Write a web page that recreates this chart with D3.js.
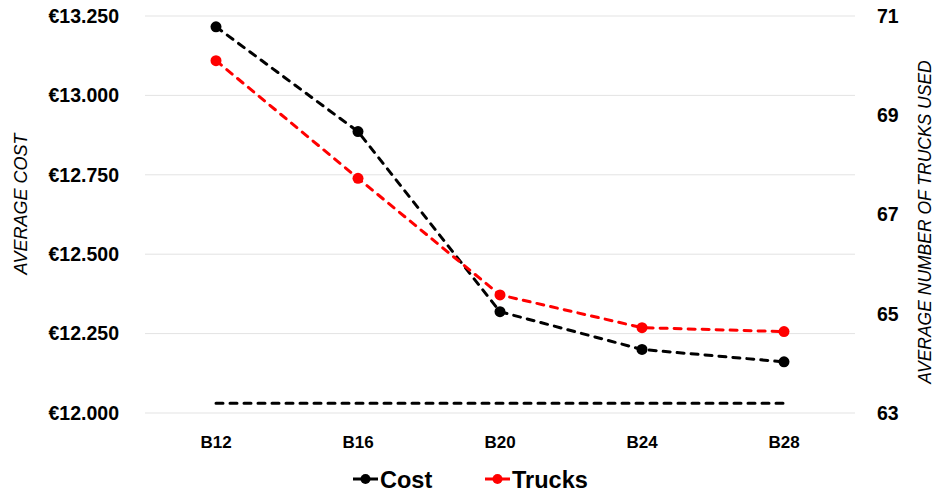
<!DOCTYPE html>
<html>
<head>
<meta charset="utf-8">
<script src="https://cdn.jsdelivr.net/npm/d3@7"></script>
<style>
  html, body { margin: 0; padding: 0; background: #fff; }
  svg { display: block; font-family: "Liberation Sans", Arial, sans-serif; }
</style>
</head>
<body>
<svg id="chart" width="938" height="496"></svg>
<script>
// ---- data ----
const categories = ["B12", "B16", "B20", "B24", "B28"];
const costValues = [13216, 12886, 12319, 12200, 12161];
const truckValues = [70.10, 67.73, 65.38, 64.72, 64.64];
const lowerBoundValues = [12031, 12031, 12031, 12031, 12031];
const costTicks = [12000, 12250, 12500, 12750, 13000, 13250];
const truckTicks = [63, 65, 67, 69, 71];
const seriesNames = ["Cost", "Trucks"];
const seriesColors = ["#000000", "#ff0000"];

// ---- layout ----
const svg = d3.select("#chart");
const plot = { left: 145, right: 855, top: 16, bottom: 413 };

const x = d3.scaleBand().domain(categories).range([plot.left, plot.right]).padding(0);
const xc = d => x(d) + x.bandwidth() / 2;
const yL = d3.scaleLinear().domain([12000, 13250]).range([plot.bottom, plot.top]);
const yR = d3.scaleLinear().domain([63, 71]).range([plot.bottom, plot.top]);

const locale = d3.formatLocale({ decimal: ",", thousands: ".", grouping: [3], currency: ["€", ""] });
const fmtCost = locale.format("$,.0f");

// gridlines
svg.append("g")
  .selectAll("line").data(costTicks).join("line")
  .attr("x1", plot.left).attr("x2", plot.right)
  .attr("y1", d => yL(d)).attr("y2", d => yL(d))
  .attr("stroke", "#e3e3e3").attr("stroke-width", 1);

// left axis
const leftAxis = svg.append("g")
  .attr("transform", `translate(${plot.left - 26},0)`)
  .call(d3.axisLeft(yL).tickValues(costTicks).tickFormat(fmtCost).tickSize(0).tickPadding(0));
leftAxis.select(".domain").remove();
leftAxis.selectAll("text")
  .attr("font-family", "Liberation Sans, Arial, sans-serif")
  .attr("font-size", 19.5).attr("font-weight", "bold").attr("fill", "#000");

// right axis
const rightAxis = svg.append("g")
  .attr("transform", `translate(${plot.right + 22},0)`)
  .call(d3.axisRight(yR).tickValues(truckTicks).tickFormat(d3.format("d")).tickSize(0).tickPadding(0));
rightAxis.select(".domain").remove();
rightAxis.selectAll("text")
  .attr("font-family", "Liberation Sans, Arial, sans-serif")
  .attr("font-size", 19.5).attr("font-weight", "bold").attr("fill", "#000");

// bottom axis
const bottomAxis = svg.append("g")
  .attr("transform", `translate(0,${plot.bottom + 23})`)
  .call(d3.axisBottom(x).tickSize(0).tickPadding(0));
bottomAxis.select(".domain").remove();
bottomAxis.selectAll("text")
  .attr("font-family", "Liberation Sans, Arial, sans-serif")
  .attr("font-size", 17).attr("font-weight", "bold").attr("fill", "#000");

// axis titles
svg.append("text")
  .attr("transform", "translate(27,204) rotate(-90)")
  .attr("text-anchor", "middle")
  .attr("font-size", 18).attr("font-style", "italic").attr("fill", "#000")
  .text("AVERAGE COST");
svg.append("text")
  .attr("transform", "translate(931,222) rotate(-90)")
  .attr("text-anchor", "middle")
  .attr("font-size", 17.5).attr("font-style", "italic").attr("fill", "#000")
  .text("AVERAGE NUMBER OF TRUCKS USED");

// lines
const lineL = d3.line().x((d, i) => xc(categories[i])).y(d => yL(d));
const lineR = d3.line().x((d, i) => xc(categories[i])).y(d => yR(d));

svg.append("path").datum(lowerBoundValues)
  .attr("d", lineL).attr("fill", "none")
  .attr("stroke", "#000").attr("stroke-width", 3)
  .attr("stroke-dasharray", "7,7").attr("stroke-linecap", "round");

svg.append("path").datum(costValues)
  .attr("d", lineL).attr("fill", "none")
  .attr("stroke", seriesColors[0]).attr("stroke-width", 3)
  .attr("stroke-dasharray", "7,7").attr("stroke-linecap", "round");

svg.append("path").datum(truckValues)
  .attr("d", lineR).attr("fill", "none")
  .attr("stroke", seriesColors[1]).attr("stroke-width", 3)
  .attr("stroke-dasharray", "7,7").attr("stroke-linecap", "round");

// markers
svg.append("g").selectAll("circle").data(costValues).join("circle")
  .attr("cx", (d, i) => xc(categories[i])).attr("cy", d => yL(d))
  .attr("r", 5.5).attr("fill", seriesColors[0]);
svg.append("g").selectAll("circle").data(truckValues).join("circle")
  .attr("cx", (d, i) => xc(categories[i])).attr("cy", d => yR(d))
  .attr("r", 5.5).attr("fill", seriesColors[1]);

// legend
const legendX = [353, 485];
const legend = svg.append("g");
seriesNames.forEach((name, i) => {
  const g = legend.append("g").attr("transform", `translate(${legendX[i]},479)`);
  g.append("line").attr("x1", 0).attr("x2", 25).attr("y1", 0).attr("y2", 0)
    .attr("stroke", seriesColors[i]).attr("stroke-width", 3);
  g.append("circle").attr("cx", 12.5).attr("cy", 0).attr("r", 5).attr("fill", seriesColors[i]);
  g.append("text").attr("x", 27).attr("y", 9)
    .attr("font-size", 23.5).attr("font-weight", "bold").attr("fill", "#000")
    .text(name);
});
</script>
</body>
</html>
